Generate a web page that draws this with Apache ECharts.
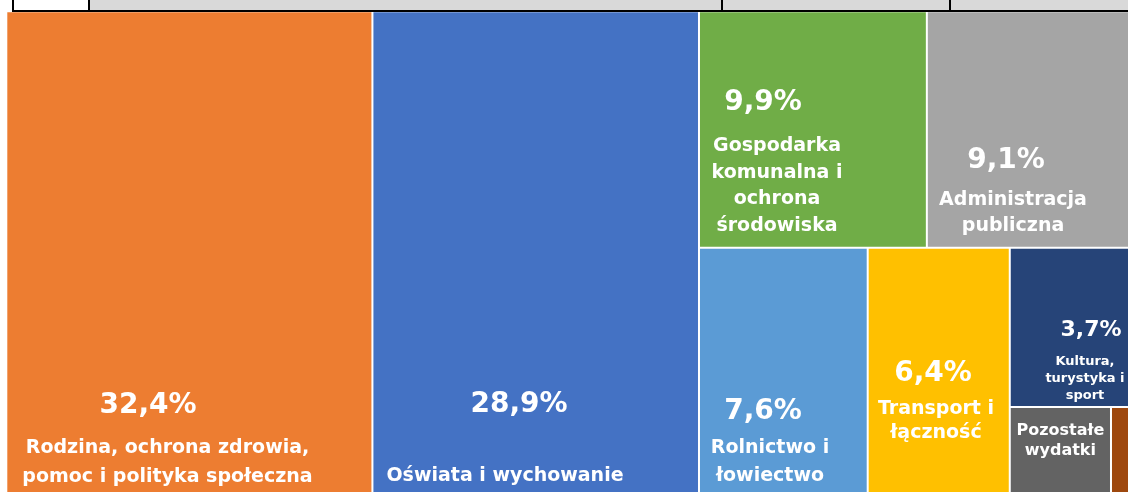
<!DOCTYPE html>
<html>
<head>
<meta charset="utf-8">
<script src="https://cdn.jsdelivr.net/npm/echarts@6/dist/echarts.min.js"></script>
<style>
  html, body { margin: 0; padding: 0; background: #ffffff; }
  #chart { width: 1128px; height: 492px; }
</style>
</head>
<body>
<div id="chart"></div>
<script>
// Budget expenditure structure, shares in percent
const categories = [
  'Rodzina, ochrona zdrowia,\npomoc i polityka społeczna',
  'Oświata i wychowanie',
  'Gospodarka\nkomunalna i\nochrona\nśrodowiska',
  'Administracja\npubliczna',
  'Rolnictwo i\nłowiectwo',
  'Transport i\nłączność',
  'Kultura,\nturystyka i\nsport',
  'Pozostałe\nwydatki',
  ''
];
const shares = [32.4, 28.9, 9.9, 9.1, 7.6, 6.4, 3.7, 1.6, 0.4];
const colors = ['#ED7D31', '#4472C4', '#70AD47', '#A5A5A5', '#5B9BD5', '#FFC000', '#264478', '#636363', '#9E480E'];

const FONT = 'DejaVu Sans';

// Text placement inside each tile: side paddings of the text box, horizontal
// nudge of the percentage line, font sizes and the vertical centre of every
// line measured from the tile's top edge.
const labelPlacement = [
  { padL: 10, padR: 53.7, shift: -19.5, pct: 28, name: 19, ys: [393.9, 436.1, 465.1] },
  { padL: 5, padR: 66.4, shift: 14, pct: 28, name: 19, ys: [392.9, 463.7] },
  { padL: 5, padR: 76.8, shift: -14, pct: 28, name: 19, ys: [90.9, 134.1, 160.6, 187.1, 214.1] },
  { padL: 5, padR: 42.1, shift: -7, pct: 28, name: 19, ys: [148.9, 187.7, 214.1] },
  { padL: 4, padR: 30.7, shift: -7, pct: 28, name: 19, ys: [162.9, 199.6, 227.6] },
  { padL: 3, padR: 8.5, shift: -3, pct: 28, name: 19, ys: [124.7, 160.6, 184.6] },
  { padL: 30, padR: 6.1, shift: 6, pct: 22, name: 13, ys: [81.5, 113, 129.7, 146.4] },
  { padL: 3, padR: 3, shift: 0, pct: null, name: 16, ys: [22.4, 42.4] },
  null
];

const formatShare = v => v.toFixed(1).replace('.', ',') + '%';

// Turn wanted line centres into a top padding plus one line height per line.
function stackLines(centres) {
  const n = centres.length;
  const heights = new Array(n);
  heights[n - 1] = 8;
  let top = centres[n - 1] - heights[n - 1] / 2;
  for (let k = n - 2; k >= 0; k--) {
    heights[k] = 2 * (top - centres[k]);
    top -= heights[k];
  }
  return { top, heights };
}

function buildLabel(i) {
  const spec = labelPlacement[i];
  if (!spec) return { show: false };
  const { top, heights } = stackLines(spec.ys);
  const rich = {};
  heights.forEach((h, k) => {
    const isPct = spec.pct && k === 0;
    let padding = 0;
    if (isPct && spec.shift < 0) padding = [0, -2 * spec.shift, 0, 0];
    if (isPct && spec.shift > 0) padding = [0, 0, 0, 2 * spec.shift];
    rich['l' + k] = {
      fontFamily: FONT,
      fontWeight: 'bold',
      fontSize: isPct ? spec.pct : spec.name,
      lineHeight: h,
      color: '#ffffff',
      align: 'center',
      padding: padding
    };
  });
  return {
    show: true,
    padding: [top, spec.padR, 0, spec.padL],
    overflow: 'none',
    rich: rich,
    formatter: function (p) {
      const lines = [];
      if (spec.pct) lines.push(formatShare(p.value));
      String(p.name).split('\n').forEach(t => lines.push(t));
      return lines.map((t, k) => '{l' + k + '|' + t + '}').join('\n');
    }
  };
}

const treeData = categories.map((name, i) => ({
  name: name,
  value: shares[i],
  itemStyle: { color: colors[i] },
  label: buildLabel(i)
}));

const chart = echarts.init(document.getElementById('chart'), null, { renderer: 'canvas' });

// Spreadsheet cells peeking above the chart area
const grid = [
  { type: 'rect', shape: { x: 89, y: 0, width: 1039, height: 10 }, style: { fill: '#D9D9D9' } },
  { type: 'line', shape: { x1: 12, y1: 11, x2: 1128, y2: 11 }, style: { stroke: '#000000', lineWidth: 2 } }
].concat([13, 89, 722, 950].map(x => ({
  type: 'line', shape: { x1: x, y1: 0, x2: x, y2: 12 }, style: { stroke: '#000000', lineWidth: 2 }
})));

chart.setOption({
  animation: false,
  backgroundColor: '#ffffff',
  graphic: grid,
  series: [{
    type: 'treemap',
    left: 7.3,
    top: 12.3,
    width: 1128,
    height: 479.7,
    squareRatio: 1,
    sort: 'desc',
    roam: false,
    nodeClick: false,
    breadcrumb: { show: false },
    itemStyle: { gapWidth: 2, borderWidth: 0, borderColor: '#ffffff' },
    label: { show: true, color: '#ffffff' },
    upperLabel: { show: false },
    data: treeData
  }]
});
</script>
</body>
</html>
